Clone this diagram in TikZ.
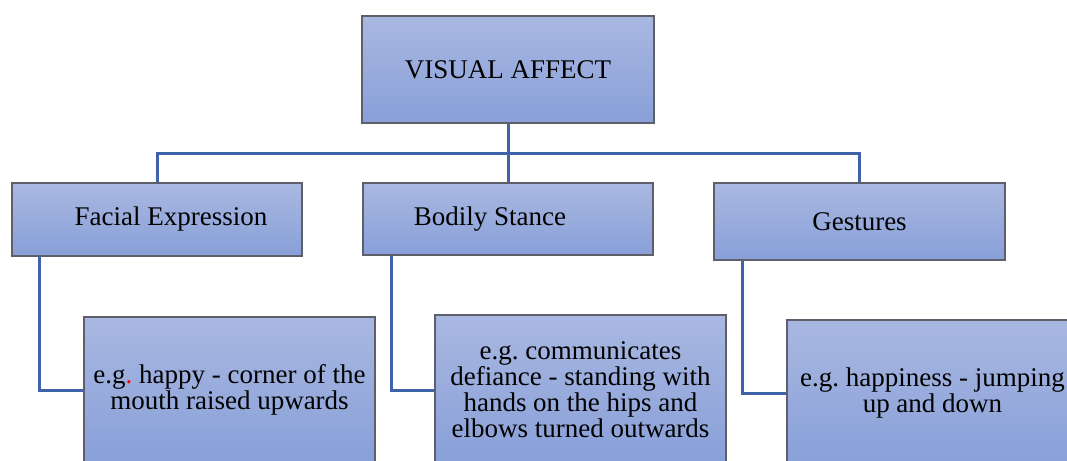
\documentclass[tikz,border=0pt]{standalone}
\usepackage{fontspec}
\setmainfont{Liberation Serif}
\usepackage{xcolor}
\definecolor{boxtop}{HTML}{A9B8E1}
\definecolor{boxbot}{HTML}{889FD8}
\definecolor{boxline}{HTML}{5E5F6B}
\definecolor{linkblue}{HTML}{3F62A9}
\tikzset{
  box/.style={draw=boxline, line width=1.5pt, top color=boxtop, bottom color=boxbot,
    inner sep=0pt, align=center, font=\fontsize{27}{26}\selectfont\frenchspacing},
  link/.style={draw=linkblue, line width=3pt}
}

\begin{document}
\begin{tikzpicture}[x=1pt, y=-1pt]
  \path[use as bounding box, clip] (0,0) rectangle (1067,460);
  % top and second row
  \node[box, minimum width=292pt, minimum height=107pt] (visual) at (508,69.5) {VISUAL AFFECT};
  \node[box, minimum width=290pt, minimum height=73pt] (facial) at (157,219.5) {\hspace*{28pt}Facial Expression};
  \node[box, minimum width=290pt, minimum height=72pt] (bodily) at (508,219) {Bodily Stance\hspace*{36pt}};
  \node[box, minimum width=291pt, minimum height=77pt] (gestures) at (859.5,221.5) {Gestures};
  % examples
  \node[box, minimum width=291pt, minimum height=146pt] (happy) at (229.5,390) {e.g{\color{red}.} happy - corner of the\\mouth raised upwards};
  \node[box, minimum width=291pt, minimum height=150pt] (defiance) at (580.5,390) {e.g. communicates\\defiance - standing with\\hands on the hips and\\elbows turned outwards};
  \node[box, minimum width=291pt, minimum height=146pt] (jumping) at (932.5,393) {e.g. happiness - jumping\\up and down};
  % connectors
  \coordinate (bus) at (508,153);
  \draw[link] (visual.south) -- (bus);
  \draw[link] (bus) -| (facial.north);
  \draw[link] (bus) -| (gestures.north);
  \draw[link] (bus) -- (bodily.north);
  \draw[link] ([xshift=28pt]facial.south west) |- (happy.west);
  \draw[link] ([xshift=29pt]bodily.south west) |- (defiance.west);
  \draw[link] ([xshift=29pt]gestures.south west) |- (jumping.west);
\end{tikzpicture}
\end{document}
